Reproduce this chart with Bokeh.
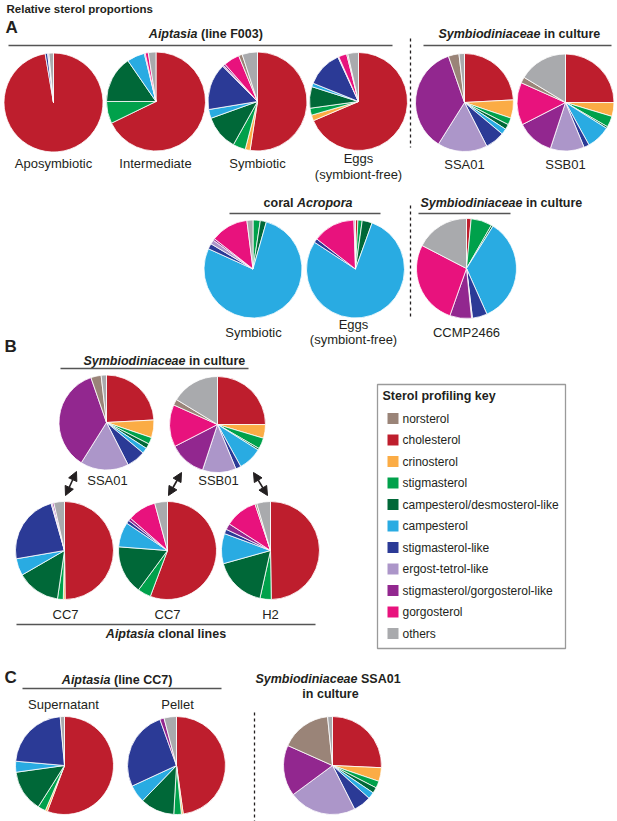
import math
from bokeh.plotting import figure
from bokeh.models import ColumnDataSource, Range1d, Arrow, NormalHead
from bokeh.core.properties import value
from bokeh.embed import file_html
from bokeh.resources import INLINE

# ---------------- data (percent, legend order) ----------------
sterols = ["norsterol", "cholesterol", "crinosterol", "stigmasterol",
           "campesterol/desmosterol-like", "campesterol", "stigmasterol-like",
           "ergost-tetrol-like", "stigmasterol/gorgosterol-like", "gorgosterol", "others"]
colors = ["#9a8478", "#be1e2d", "#fbac45", "#00a14b", "#006838", "#29abe2",
          "#2b3a96", "#ac96c9", "#92278f", "#e8127d", "#a9aaad"]

aposymbiotic       = [0.0, 97.3, 0.0, 0.0, 0.0, 0.0, 0.8, 0.4, 0.0, 0.0, 1.5]
intermediate       = [0.0, 67.8, 0.0, 7.2, 15.4, 5.8, 0.0, 0.0, 0.3, 1.0, 2.5]
symbiotic_f003     = [1.2, 52.4, 1.6, 4.1, 11.4, 2.9, 15.2, 0.4, 0.6, 5.2, 5.0]
eggs_f003          = [0.4, 68.6, 1.9, 2.3, 7.1, 1.2, 12.0, 0.3, 0.0, 2.7, 3.5]
ssa01              = [3.5, 24.1, 6.0, 2.3, 1.7, 1.9, 6.4, 16.4, 35.7, 0.0, 1.8]
ssb01              = [2.0, 25.0, 4.6, 3.7, 0.6, 8.0, 1.8, 11.3, 12.4, 14.2, 16.3]
acropora_symbiotic = [0.0, 0.0, 0.0, 2.4, 2.0, 77.3, 1.8, 1.4, 0.6, 12.4, 2.0]
acropora_eggs      = [0.0, 0.8, 0.0, 1.4, 3.3, 78.7, 1.3, 0.0, 0.0, 14.0, 0.5]
ccmp2466           = [0.0, 1.5, 0.0, 6.8, 0.6, 34.4, 4.8, 0.3, 7.0, 27.2, 17.4]
cc7_1              = [0.0, 49.6, 0.6, 1.9, 14.3, 5.6, 23.2, 0.4, 0.5, 0.0, 3.5]
cc7_2              = [0.0, 55.7, 0.0, 4.4, 16.1, 8.2, 1.1, 0.0, 0.9, 9.4, 4.2]
h2                 = [0.6, 49.5, 0.0, 3.7, 17.1, 9.9, 1.5, 0.0, 2.0, 10.7, 4.5]
supernatant        = [0.0, 55.7, 0.7, 2.6, 13.8, 3.6, 22.2, 0.0, 0.0, 0.0, 1.4]
pellet             = [0.0, 47.8, 0.6, 2.5, 11.3, 5.9, 26.4, 0.0, 1.4, 0.0, 4.1]
ssa01_c            = [16.7, 25.7, 4.5, 2.3, 1.9, 2.2, 5.9, 22.3, 16.8, 0.0, 1.6]

# clockwise drawing order starting at 12 o'clock
draw_order = [1, 2, 3, 4, 5, 6, 7, 8, 9, 0, 10]

# ---------------- layout (page pixel coordinates) ----------------
W, H = 617, 821
def Y(py):
    return H - py

pies = [  # (values, cx, cy, r)
    (aposymbiotic, 53, 102, 49.5),
    (intermediate, 155.5, 101, 49.5),
    (symbiotic_f003, 257, 101, 49.5),
    (eggs_f003, 358, 101, 49),
    (ssa01, 464, 102, 49),
    (ssb01, 565, 102, 48.5),
    (acropora_symbiotic, 252.5, 268.5, 49),
    (acropora_eggs, 355, 268.5, 49),
    (ccmp2466, 466, 268, 50),
    (ssa01, 106, 422, 47.5),
    (ssb01, 217, 424, 48),
    (cc7_1, 64, 550, 49),
    (cc7_2, 167, 550, 49),
    (h2, 270, 550, 49),
    (supernatant, 64, 765, 49),
    (pellet, 176, 765, 49),
    (ssa01_c, 332, 765, 49),
]

p = figure(width=W, height=H, output_backend="svg", toolbar_location=None,
           x_range=Range1d(0, W), y_range=Range1d(0, H),
           min_border=0, outline_line_color=None)
p.axis.visible = False
p.grid.visible = False

# wedges
wx, wy, wr, ws, we, wc = [], [], [], [], [], []
for vals, cx, cy, r in pies:
    tot = float(sum(vals))
    c = 0.0
    for i in draw_order:
        v = vals[i] / tot
        if v <= 0:
            continue
        a0 = math.pi / 2 - 2 * math.pi * c
        c += v
        a1 = math.pi / 2 - 2 * math.pi * c
        wx.append(cx); wy.append(Y(cy)); wr.append(r)
        ws.append(a0); we.append(a1); wc.append(colors[i])
src = ColumnDataSource(dict(x=wx, y=wy, r=wr, s=ws, e=we, c=wc))
p.wedge(x="x", y="y", radius="r", start_angle="s", end_angle="e", direction="clock",
        fill_color="c", line_color="white", line_width=0.8, source=src)

FONT = value("Liberation Sans")
TXT = "#231f20"

def txt(x, y, t, size, style="normal", align="left"):
    p.text(x=[x], y=[Y(y)], text=[t], text_font=FONT, text_font_size=size,
           text_font_style=style, text_align=align, text_baseline="middle", text_color=TXT)

# title and panel letters
txt(6, 8, "Relative sterol proportions", "11.5px", "bold")
txt(5, 27, "A", "17px", "bold")
txt(4, 346, "B", "17px", "bold")
txt(4, 677, "C", "17px", "bold")

# group headers (mixed italic/bold)
headers = [
    (197, 33, "Aiptasia", "(line F003)", True),
    (540, 33, "Symbiodiniaceae", "in culture", True),
    (293, 202, "coral", "Acropora", False),
    (522, 202, "Symbiodiniaceae", "in culture", True),
    (185, 360, "Symbiodiniaceae", "in culture", True),
    (154, 633, "Aiptasia", "clonal lines", True),
    (110, 679, "Aiptasia", "(line CC7)", True),
    (357, 678, "Symbiodiniaceae", "SSA01", True),
]
for xs, yy, left_t, right_t, left_italic in headers:
    txt(xs, yy, left_t, "12.5px", "bold italic" if left_italic else "bold", "right")
    txt(xs + 3.5, yy, right_t, "12.5px", "bold" if left_italic else "bold italic", "left")
txt(330, 693, "in culture", "12.5px", "bold", "center")

# sample labels
labels = [
    (53, 163, "Aposymbiotic"), (155, 163, "Intermediate"), (257, 163, "Symbiotic"),
    (358, 158, "Eggs"), (358, 174, "(symbiont-free)"), (464, 164, "SSA01"), (565, 164, "SSB01"),
    (253, 332, "Symbiotic"), (353, 324, "Eggs"), (353, 339, "(symbiont-free)"), (466, 332, "CCMP2466"),
    (107, 480, "SSA01"), (218, 480, "SSB01"),
    (65, 614, "CC7"), (167, 614, "CC7"), (270, 614, "H2"),
    (63, 704, "Supernatant"), (177, 704, "Pellet"),
]
for x, y, t in labels:
    txt(x, y, t, "13px", "normal", "center")

# header rules
rules = [(8, 392, 45), (423, 611, 45), (229, 380, 213), (418, 510, 213),
         (60, 248, 368), (16, 315, 624), (22, 221, 688)]
p.segment(x0=[a for a, b, c in rules], x1=[b for a, b, c in rules],
          y0=[Y(c) for a, b, c in rules], y1=[Y(c) for a, b, c in rules],
          line_color="#555555", line_width=1.6)

# dashed separators
dashes = [(410, 38, 147), (410, 205, 316), (254, 712, 821)]
p.segment(x0=[a for a, b, c in dashes], x1=[a for a, b, c in dashes],
          y0=[Y(b) for a, b, c in dashes], y1=[Y(c) for a, b, c in dashes],
          line_color="#231f20", line_width=1.3, line_dash="3 3")

# double-headed arrows
arrows = [(76, 471, 65, 495), (181, 472, 168, 495), (253, 472, 267, 495)]
for x0, y0, x1, y1 in arrows:
    p.add_layout(Arrow(start=NormalHead(size=9, fill_color="#231f20", line_color="#231f20"),
                       end=NormalHead(size=9, fill_color="#231f20", line_color="#231f20"),
                       x_start=x0, y_start=Y(y0), x_end=x1, y_end=Y(y1),
                       line_color="#231f20", line_width=1.6))

# legend box
p.quad(left=[377], right=[565], top=[Y(384)], bottom=[Y(648)],
       fill_color=None, line_color="#9a9a9a", line_width=1.3)
txt(382, 395, "Sterol profiling key", "12.5px", "bold")
ly = [418 + 21.5 * i for i in range(len(sterols))]
p.rect(x=[392.5] * len(sterols), y=[Y(v) for v in ly], width=11, height=11,
       fill_color=colors, line_color=None)
for name, yy in zip(sterols, ly):
    txt(402, yy, name, "12px")

open("out.html", "w").write(file_html(p, INLINE))
